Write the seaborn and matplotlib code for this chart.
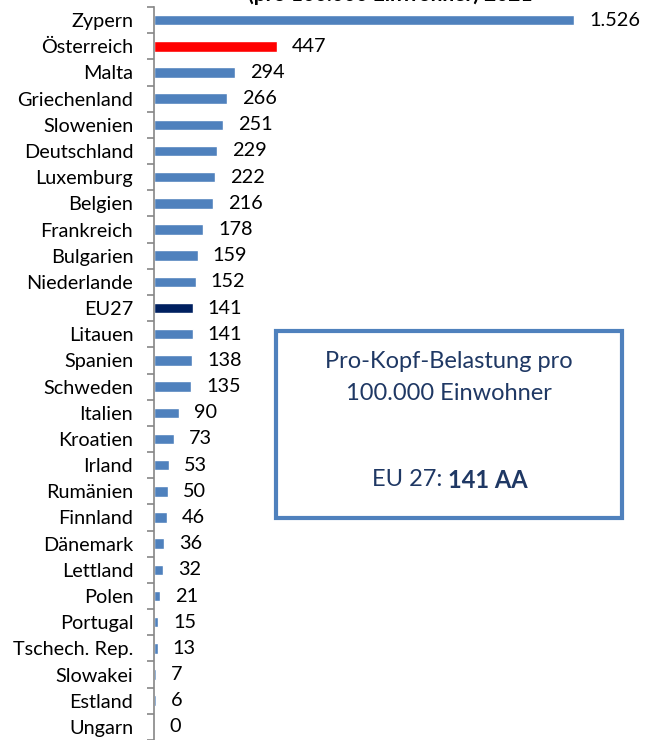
import numpy as np
import pandas as pd
import matplotlib
matplotlib.use("Agg")
import matplotlib.pyplot as plt
import seaborn as sns
from matplotlib.patches import Rectangle

countries = ["Zypern", "Österreich", "Malta", "Griechenland", "Slowenien", "Deutschland",
             "Luxemburg", "Belgien", "Frankreich", "Bulgarien", "Niederlande", "EU27",
             "Litauen", "Spanien", "Schweden", "Italien", "Kroatien", "Irland", "Rumänien",
             "Finnland", "Dänemark", "Lettland", "Polen", "Portugal", "Tschech. Rep.",
             "Slowakei", "Estland", "Ungarn"]
values = [1526, 447, 294, 266, 251, 229, 222, 216, 178, 159, 152, 141,
          141, 138, 135, 90, 73, 53, 50, 46, 36, 32, 21, 15, 13, 7, 6, 0]
title_text = "(pro 100.000 Einwohner) 2021"
box_line1 = "Pro-Kopf-Belastung pro"
box_line2 = "100.000 Einwohner"
box_eu_prefix = "EU 27: "
box_eu_value = "141 AA"

BLUE = "#4F81BD"
RED = "#FF0000"
NAVY = "#002060"
TEXT_NAVY = "#1F3864"

colors = [RED if c == "Österreich" else NAVY if c == "EU27" else BLUE for c in countries]

sns.set_theme(style="white")
plt.rcParams['font.family'] = ['Lato', 'DejaVu Sans']

W, H = 654, 740
fig = plt.figure(figsize=(W / 100, H / 100), dpi=100)
ax_left, ax_right = 154, 654
ax_top, ax_bottom = 7, 740
ax = fig.add_axes([ax_left / W, 1 - ax_bottom / H, (ax_right - ax_left) / W, (ax_bottom - ax_top) / H])

df = pd.DataFrame({"Land": countries, "Wert": values})
sns.barplot(data=df, x="Wert", y="Land", hue="Land", palette=colors, legend=False,
            width=0.4, ax=ax, saturation=1, order=countries)

px_per_unit = (574 - 154) / 1526
ax.set_xlim(0, (ax_right - ax_left) / px_per_unit)
ax.set_ylim(27.42, -0.5)

ax.set_xlabel("")
ax.set_ylabel("")
ax.set_xticks([])
for s in ["top", "right", "bottom"]:
    ax.spines[s].set_visible(False)
ax.spines["left"].set_color("#868686")
ax.spines["left"].set_linewidth(1.2)
ax.tick_params(axis="y", which="major", length=0, pad=15, labelsize=14.3, labelcolor="black")
ax.set_yticks(np.arange(-0.5, 28, 1), minor=True)
ax.tick_params(axis="y", which="minor", length=5, width=1.2, color="#868686", left=True)

def fmt(v):
    return f"{v:,}".replace(",", ".")

for i, v in enumerate(values):
    ax.annotate(fmt(v), xy=(v, i), xytext=(15, 0), textcoords="offset pixels",
                va="center", ha="left", fontsize=14.3, color="black")

# partially visible title at the top (cut off as in the original)
fig.text(390 / W, 1 + 5 / H, title_text, ha="center", va="center", fontsize=15,
         fontweight="bold", color="black")

# info box
bx0, by0, bx1, by1 = 276, 331, 622, 518
fig.patches.append(Rectangle((bx0 / W, 1 - by1 / H), (bx1 - bx0) / W, (by1 - by0) / H,
                             transform=fig.transFigure, fill=True, facecolor="white",
                             edgecolor=BLUE, linewidth=3, zorder=5))
cx = (bx0 + bx1) / 2
fig.text(cx / W, 1 - 361 / H, box_line1, ha="center", va="center", fontsize=17,
         color=TEXT_NAVY, zorder=6)
fig.text(cx / W, 1 - 393 / H, box_line2, ha="center", va="center", fontsize=17,
         color=TEXT_NAVY, zorder=6)
fig.text(448 / W, 1 - 480 / H, box_eu_prefix, ha="right", va="center", fontsize=17,
         color=TEXT_NAVY, zorder=6)
fig.text(448 / W, 1 - 480 / H, box_eu_value, ha="left", va="center", fontsize=17,
         fontweight="bold", color=TEXT_NAVY, zorder=6)

fig.savefig("out.png", dpi=100)
